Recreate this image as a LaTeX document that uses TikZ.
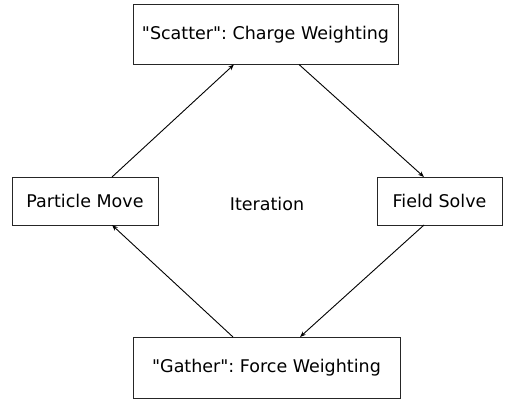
\documentclass[tikz,border=0pt]{standalone}
\usepackage{fontspec}
\setmainfont{DejaVu Sans}[Ligatures=TeXOff]
\usetikzlibrary{arrows.meta}
\frenchspacing
\begin{document}
\begin{tikzpicture}[x=1pt,y=-1pt,
  box/.style={draw=black!85, line width=0.9pt, inner sep=0pt, font=\fontsize{17.5}{20}\selectfont},
  conn/.style={draw=black, line width=0.9pt, -{Stealth[length=6pt,width=4.5pt]}}]
\useasboundingbox (0,0) rectangle (514,399);
\node[box, minimum width=265pt, minimum height=60pt] (scatter) at (265.5,34.5) {"Scatter": Charge Weighting};
\node[box, minimum width=146pt, minimum height=48pt] (move) at (85,201) {Particle Move};
\node[box, minimum width=125pt, minimum height=48pt] (field) at (439.5,201) {Field Solve};
\node[box, minimum width=267pt, minimum height=61pt] (gather) at (266.5,367.5) {"Gather": Force Weighting};
\node[font=\fontsize{17.5}{20}\selectfont] (iter) at (267,204) {Iteration};
\coordinate (m1) at (112,177);
\coordinate (s1) at (234,64.5);
\coordinate (s2) at (299,64.5);
\coordinate (f1) at (424,177);
\coordinate (f2) at (424,225);
\coordinate (g1) at (300,337);
\coordinate (g2) at (233,337);
\coordinate (m2) at (112,225);
\draw[conn] (m1) -- (s1);
\draw[conn] (s2) -- (f1);
\draw[conn] (f2) -- (g1);
\draw[conn] (g2) -- (m2);
\end{tikzpicture}
\end{document}
